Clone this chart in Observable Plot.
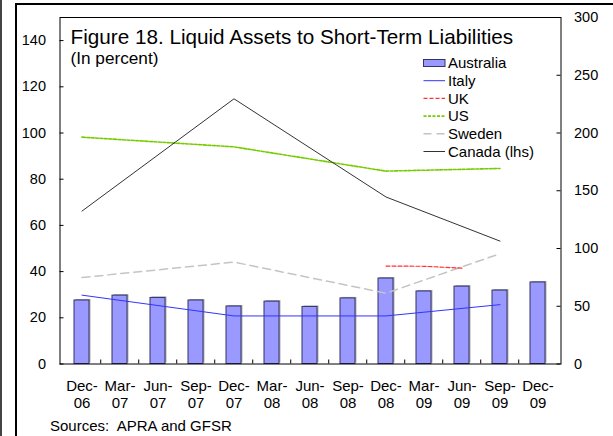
<!DOCTYPE html>
<html>
<head>
<meta charset="utf-8">
<script src="https://cdn.jsdelivr.net/npm/d3@7"></script>
<script src="https://cdn.jsdelivr.net/npm/@observablehq/plot@0.6"></script>
<style>
  html, body { margin: 0; padding: 0; background: #fff; }
  #wrap { position: relative; width: 613px; height: 436px; overflow: hidden; font-family: "Liberation Sans", Arial, sans-serif; }
  #wrap svg { position: absolute; left: 0; top: 0; }
  .deco { position: absolute; background: #000; }
</style>
</head>
<body>
<div id="wrap">
  <div class="deco" style="left:0;top:0;width:1.5px;height:436px;background:#444;"></div>
  <div class="deco" style="left:15px;top:3px;width:2px;height:433px;"></div>
  <div class="deco" style="left:15px;top:3px;width:598px;height:1.5px;"></div>
</div>
<script>
// ---- Data ----
const dates = ["Dec-06","Mar-07","Jun-07","Sep-07","Dec-07","Mar-08","Jun-08","Sep-08","Dec-08","Mar-09","Jun-09","Sep-09","Dec-09"];
// right-hand-scale series (percent)
const australia = [55.0, 59.2, 57.2, 55.0, 49.8, 54.0, 49.4, 56.8, 74.0, 62.8, 67.0, 63.6, 70.6];
const italy     = [59.6, null, null, null, 41.6, null, null, null, 41.6, null, null, 51.4, null];
const uk        = [null, null, null, null, null, null, null, null, 84.8, 84.6, 83.0, null, null];
const us        = [196.4, null, null, null, 188.0, null, null, null, 167.0, null, null, 169.3, null];
const sweden    = [74.9, null, null, null, 88.2, null, null, null, 61.3, null, null, 95.5, null];
// left-hand-scale series
const canada    = [66.2, null, null, null, 114.8, null, null, null, 72.3, null, null, 53.2, null];

const lhsTicks = [0, 20, 40, 60, 80, 100, 120, 140];
const rhsTicks = [0, 50, 100, 150, 200, 250, 300];
const title = "Figure 18. Liquid Assets to Short-Term Liabilities";
const subtitle = "(In percent)";
const source = "Sources:\u00a0 APRA and GFSR";
const legendItems = ["Australia", "Italy", "UK", "US", "Sweden", "Canada (lhs)"];

// ---- Build tables ----
const rows = (arr) => dates.map((d, i) => ({date: d, v: arr[i]})).filter(r => r.v != null);
const rhs = (d) => d.v / 2; // rhs axis is exactly twice the lhs axis

const W = 613, H = 436;
const mL = 59.5, mR = 52.5, mT = 17, mB = 72.5;
const plotW = W - mL - mR, plotH = H - mT - mB;
const step = plotW / dates.length;

const styles = {
  italy:  {stroke: "#3333ff", strokeWidth: 1},
  uk:     {stroke: "#ff3333", strokeWidth: 1.2, strokeDasharray: "4,2"},
  us:     {stroke: "#77cc00", strokeWidth: 1.6, strokeDasharray: "3,1.5"},
  sweden: {stroke: "#c4c4c4", strokeWidth: 1.5, strokeDasharray: "8,5"},
  canada: {stroke: "#333333", strokeWidth: 1}
};

const chart = Plot.plot({
  width: W, height: H,
  marginLeft: mL, marginRight: mR, marginTop: mT, marginBottom: mB,
  style: {fontFamily: "'Liberation Sans', Arial, sans-serif", fontSize: "15px", background: "transparent", color: "#000"},
  x: {type: "band", domain: dates, paddingInner: 0.6, paddingOuter: 0.3, axis: null},
  y: {domain: [0, 150], axis: null},
  marks: [
    // bars (shadow + body)
    Plot.barY(rows(australia), {x: "date", y: rhs, fill: "#b0b0b0", dx: 1.5, dy: -1}),
    Plot.barY(rows(australia), {x: "date", y: rhs, fill: "#9999ff", stroke: "#333366", strokeWidth: 1}),
    // lines
    Plot.line(rows(sweden), {x: "date", y: rhs, ...styles.sweden}),
    Plot.line(rows(italy), {x: "date", y: rhs, ...styles.italy}),
    Plot.line(rows(uk), {x: "date", y: rhs, ...styles.uk}),
    Plot.line(rows(us), {x: "date", y: rhs, ...styles.us}),
    Plot.line(rows(canada), {x: "date", y: "v", ...styles.canada}),
    // frame
    Plot.frame({stroke: "#000", strokeWidth: 1}),
    // inward ticks
    Plot.ruleY(lhsTicks, {y: d => d, insetRight: plotW - 4, stroke: "#000"}),
    Plot.ruleY(rhsTicks, {y: d => d / 2, insetLeft: plotW - 4, stroke: "#000"}),
    Plot.ruleX(dates.slice(1), {x: d => d, dx: -step / 2, insetTop: plotH - 4, stroke: "#000"}),
    // axes labels
    Plot.axisY(lhsTicks, {anchor: "left", tickSize: 0, tickPadding: 14, fontSize: 14.5, label: null}),
    Plot.axisY(rhsTicks.map(t => t / 2), {anchor: "right", tickSize: 0, tickPadding: 13, fontSize: 14.5, label: null, tickFormat: d => String(d * 2)}),
    Plot.text(dates, {x: d => d, text: d => d.replace("-", "-\n"), frameAnchor: "bottom", lineAnchor: "top", dy: 15, lineHeight: 1.12, fontSize: 15, fill: "#000"}),
    // titles
    Plot.text([title], {text: d => d, frameAnchor: "top-left", textAnchor: "start", lineAnchor: "top", dx: 10.5, dy: 11.3, fontSize: 20.7, fill: "#000"}),
    Plot.text([subtitle], {text: d => d, frameAnchor: "top-left", textAnchor: "start", lineAnchor: "top", dx: 10.5, dy: 34.5, fontSize: 17.2, fill: "#000"}),
    Plot.text([source], {text: d => d, frameAnchor: "bottom-left", textAnchor: "start", lineAnchor: "top", dx: -10, dy: 56.5, fontSize: 15, fill: "#000"})
  ]
});

// ---- Legend (inside the plot area) ----
const svg = d3.select(chart);
const lg = svg.append("g")
  .attr("font-family", "'Liberation Sans', Arial, sans-serif")
  .attr("font-size", 15)
  .attr("text-anchor", "start");
const legendStyles = [null, styles.italy, styles.uk, styles.us, styles.sweden, styles.canada];
const lx0 = 423.5, lx1 = 445, ltx = 448, ly0 = 63, ldy = 17.7;
legendItems.forEach((name, i) => {
  const y = ly0 + i * ldy;
  if (i === 0) {
    lg.append("rect").attr("x", lx0).attr("y", y - 3.5).attr("width", lx1 - lx0).attr("height", 7)
      .attr("fill", "#9999ff").attr("stroke", "#333366").attr("stroke-width", 1);
  } else {
    const s = legendStyles[i];
    lg.append("line").attr("x1", lx0).attr("x2", lx1).attr("y1", y).attr("y2", y)
      .attr("stroke", s.stroke).attr("stroke-width", s.strokeWidth)
      .attr("stroke-dasharray", s.strokeDasharray || null);
  }
  lg.append("text").attr("x", ltx).attr("y", y).attr("dy", "0.35em")
    .attr("text-anchor", "start").attr("fill", "#000").text(name);
});

document.getElementById("wrap").appendChild(chart);
</script>
</body>
</html>
